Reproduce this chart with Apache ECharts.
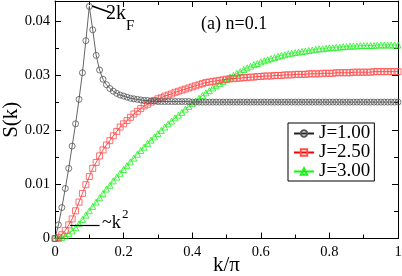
<!DOCTYPE html>
<html>
<head>
<meta charset="utf-8">
<script src="https://cdn.jsdelivr.net/npm/echarts@6/dist/echarts.min.js"></script>
<style>html,body{margin:0;padding:0;background:#fff}#c{width:402px;height:276px}</style>
</head>
<body>
<div id="c"></div>
<script>
// k/pi grid (0 .. 1 in steps of 0.01)
const kGrid = Array.from({length: 101}, (_, i) => i / 100);

const seriesNames = ['J=1.00', 'J=2.50', 'J=3.00'];

const sJ100 = [
  0, 0.0025, 0.0057, 0.0092, 0.0129, 0.0170, 0.0211, 0.0256, 0.0305, 0.0364,
  0.0427, 0.0384, 0.0337, 0.0310, 0.0293, 0.0283, 0.0276, 0.0271, 0.0267, 0.0264,
  0.0262, 0.0260, 0.0258, 0.0257, 0.0256, 0.0255, 0.0254, 0.0254, 0.0253, 0.0253,
  0.0252, 0.0252, 0.0252, 0.0252, 0.0252, 0.0252, 0.0252, 0.0252, 0.0252, 0.0252,
  0.0251, 0.0251, 0.0251, 0.0251, 0.0251, 0.0251, 0.0251, 0.0251, 0.0251, 0.0251,
  0.0251, 0.0251, 0.0251, 0.0251, 0.0251, 0.0251, 0.0251, 0.0251, 0.0251, 0.0251,
  0.0251, 0.0251, 0.0251, 0.0251, 0.0251, 0.0251, 0.0251, 0.0251, 0.0251, 0.0251,
  0.0251, 0.0251, 0.0251, 0.0251, 0.0251, 0.0251, 0.0251, 0.0251, 0.0251, 0.0251,
  0.0251, 0.0251, 0.0251, 0.0251, 0.0251, 0.0251, 0.0251, 0.0251, 0.0251, 0.0251,
  0.0251, 0.0251, 0.0251, 0.0251, 0.0251, 0.0251, 0.0251, 0.0251, 0.0251, 0.0251,
  0.0251
];

const sJ250 = [
  0, 0.0002, 0.0007, 0.0015, 0.0025, 0.0036, 0.0051, 0.0067, 0.0083, 0.0099,
  0.0114, 0.0129, 0.0140, 0.0152, 0.0163, 0.0172, 0.0180, 0.0189, 0.0197, 0.0205,
  0.0211, 0.0217, 0.0223, 0.0229, 0.0234, 0.0239, 0.0244, 0.0247, 0.0251, 0.0254,
  0.0257, 0.0259, 0.0262, 0.0264, 0.0266, 0.0269, 0.0271, 0.0273, 0.0275, 0.0277,
  0.0279, 0.0281, 0.0283, 0.0285, 0.0287, 0.0288, 0.0289, 0.0290, 0.0291, 0.0292,
  0.0293, 0.0294, 0.0294, 0.0295, 0.0295, 0.0296, 0.0296, 0.0297, 0.0297, 0.0298,
  0.0298, 0.0299, 0.0299, 0.0299, 0.0300, 0.0300, 0.0300, 0.0301, 0.0301, 0.0301,
  0.0302, 0.0302, 0.0302, 0.0302, 0.0303, 0.0303, 0.0303, 0.0303, 0.0304, 0.0304,
  0.0304, 0.0304, 0.0305, 0.0305, 0.0305, 0.0305, 0.0305, 0.0306, 0.0306, 0.0306,
  0.0306, 0.0306, 0.0306, 0.0307, 0.0307, 0.0307, 0.0307, 0.0307, 0.0307, 0.0307,
  0.0307
];

const sJ300 = [
  0, 0.0000, 0.0002, 0.0005, 0.0009, 0.0014, 0.0020, 0.0027, 0.0035, 0.0043,
  0.0051, 0.0059, 0.0067, 0.0075, 0.0083, 0.0091, 0.0098, 0.0106, 0.0113, 0.0120,
  0.0127, 0.0134, 0.0141, 0.0148, 0.0155, 0.0162, 0.0168, 0.0175, 0.0181, 0.0187,
  0.0193, 0.0199, 0.0205, 0.0211, 0.0216, 0.0222, 0.0227, 0.0232, 0.0238, 0.0243,
  0.0248, 0.0253, 0.0258, 0.0263, 0.0268, 0.0272, 0.0277, 0.0281, 0.0285, 0.0289,
  0.0293, 0.0297, 0.0300, 0.0304, 0.0307, 0.0311, 0.0314, 0.0317, 0.0320, 0.0322,
  0.0325, 0.0327, 0.0329, 0.0331, 0.0333, 0.0335, 0.0337, 0.0338, 0.0340, 0.0341,
  0.0342, 0.0343, 0.0344, 0.0345, 0.0346, 0.0347, 0.0348, 0.0349, 0.0349, 0.0350,
  0.0351, 0.0351, 0.0352, 0.0352, 0.0353, 0.0353, 0.0354, 0.0354, 0.0354, 0.0355,
  0.0355, 0.0355, 0.0355, 0.0355, 0.0356, 0.0356, 0.0356, 0.0356, 0.0356, 0.0356,
  0.0356
];

const xTickLabels = ['0', '0.2', '0.4', '0.6', '0.8', '1'];
const yTickLabels = ['0', '0.01', '0.02', '0.03', '0.04'];

const FONT = 'Liberation Serif';

const chart = echarts.init(document.getElementById('c'), null, {renderer: 'canvas'});

function pairs(vals) { return kGrid.map((k, i) => [k, vals[i]]); }

const axisLine = {show: true, onZero: false, lineStyle: {color: '#000', width: 1}};
const axisTick = {show: true, inside: true, length: 6, lineStyle: {color: '#000', width: 1}};
const minorTick = {show: true, splitNumber: 2, length: 4, lineStyle: {color: '#000', width: 1}};

function txt(text, left, top, size) {
  return {type: 'text', left, top, z: 10,
    style: {text, fontFamily: FONT, fontSize: size, fill: '#000'}};
}

const option = {
  backgroundColor: '#fff',
  animation: false,
  textStyle: {fontFamily: FONT},
  grid: {left: 55, right: 4, top: 1, bottom: 37.5, containLabel: false, outerBoundsMode: 'none'},
  xAxis: [{
    type: 'value', min: 0, max: 1, interval: 0.2, position: 'bottom',
    axisLine, axisTick, minorTick, splitLine: {show: false},
    axisLabel: {
      margin: 6, color: '#000', fontFamily: FONT, fontSize: 14.5,
      formatter: v => xTickLabels[Math.round(v * 5)]
    },
    name: 'k/π', nameLocation: 'middle', nameGap: 16, nameMoveOverlap: false,
    nameTextStyle: {fontFamily: FONT, fontSize: 21, color: '#000', verticalAlign: 'top'}
  }, {
    type: 'value', min: 0, max: 1, interval: 0.2, position: 'top',
    axisLine, axisTick, minorTick, splitLine: {show: false},
    axisLabel: {show: false}
  }],
  yAxis: [{
    type: 'value', min: 0, max: 0.0437, interval: 0.01, position: 'left',
    axisLine, axisTick, minorTick, splitLine: {show: false},
    axisLabel: {
      margin: 5, color: '#000', fontFamily: FONT, fontSize: 14.5, showMaxLabel: false,
      formatter: v => { const i = Math.round(v * 100); return Math.abs(v * 100 - i) < 1e-6 ? yTickLabels[i] : ''; }
    },
    name: 'S(k)', nameLocation: 'middle', nameGap: 33, nameRotate: 90, nameMoveOverlap: false,
    nameTextStyle: {fontFamily: FONT, fontSize: 21, color: '#000'}
  }, {
    type: 'value', min: 0, max: 0.0437, interval: 0.01, position: 'right',
    axisLine, axisTick, minorTick, splitLine: {show: false},
    axisLabel: {show: false}
  }],
  legend: {
    orient: 'vertical', left: 288, top: 123,
    backgroundColor: '#fff', borderColor: '#000', borderWidth: 1, borderRadius: 0,
    padding: [1, 4, 0, 5], itemGap: 0, itemWidth: 20, itemHeight: 8,
    textStyle: {fontFamily: FONT, fontSize: 19, color: '#000', width: 58, overflow: 'none'},
    data: seriesNames
  },
  series: [{
    name: seriesNames[0], type: 'line', data: pairs(sJ100),
    symbol: 'circle', symbolSize: 6, z: 3,
    lineStyle: {color: '#222', width: 0.7},
    itemStyle: {color: 'rgba(255,255,255,0)', borderColor: '#555', borderWidth: 0.8},
    markLine: {
      silent: true, symbol: ['none', 'arrow'], symbolSize: [0, 7], label: {show: false},
      lineStyle: {color: '#000', width: 1.6, type: 'solid'},
      data: [[{coord: [0.165, 0.0415]}, {coord: [0.108, 0.0428]}]]
    }
  }, {
    name: seriesNames[1], type: 'line', data: pairs(sJ250),
    symbol: 'rect', symbolSize: 6, z: 2,
    lineStyle: {color: '#ff0000', width: 0.7},
    itemStyle: {color: 'rgba(255,255,255,0)', borderColor: '#ff4d4d', borderWidth: 0.8},
    markLine: {
      silent: true, symbol: ['none', 'arrow'], symbolSize: [0, 7], label: {show: false},
      lineStyle: {color: '#000', width: 1.2, type: 'solid'},
      data: [[{coord: [0.13, 0.00245]}, {coord: [0.044, 0.00245]}]]
    }
  }, {
    name: seriesNames[2], type: 'line', data: pairs(sJ300),
    symbol: 'triangle', symbolSize: 6, z: 1,
    lineStyle: {color: '#00ff00', width: 0.7},
    itemStyle: {color: 'rgba(255,255,255,0)', borderColor: '#22ee22', borderWidth: 0.8}
  }],
  graphic: [
    txt('2k', 106, 4, 20),
    txt('F', 126, 19, 15),
    txt('(a) n=0.1', 201, 15, 18),
    txt('~k', 102, 214, 18),
    txt('2', 122, 208, 13)
  ]
};
chart.setOption(option);
</script>
</body>
</html>
